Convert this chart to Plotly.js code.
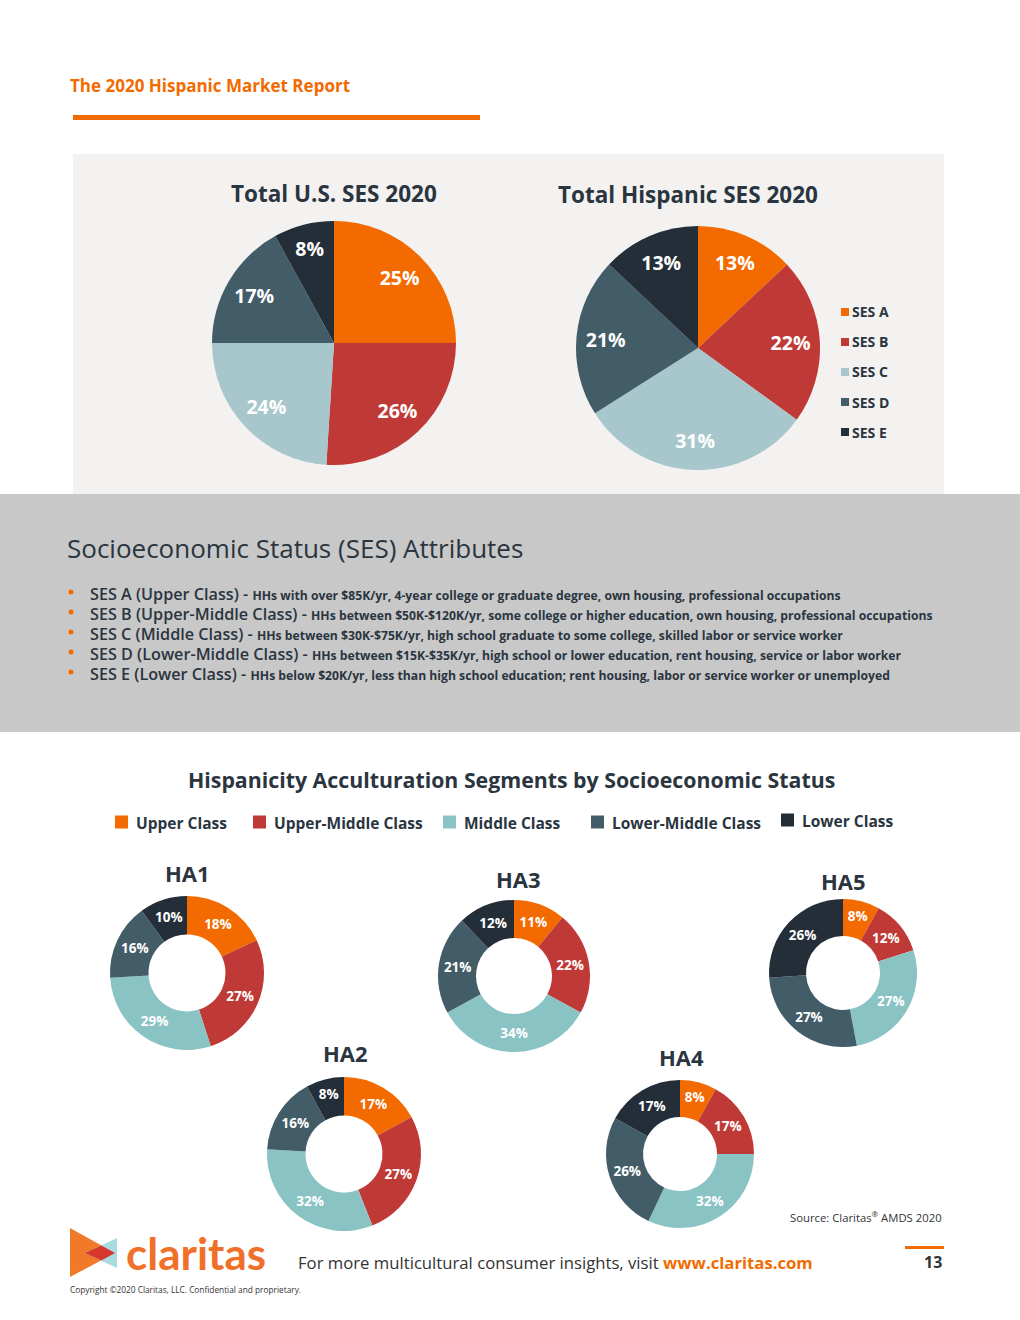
<!DOCTYPE html>
<html><head><meta charset="utf-8">
<script src="https://cdn.plot.ly/plotly-3.0.1.min.js"></script>
<style>html,body{margin:0;padding:0;background:#fff}#chart{width:1020px;height:1320px}</style>
</head><body><div id="chart"></div>
<script>
// ---- data ----
const sesLabels = ['SES A', 'SES B', 'SES C', 'SES D', 'SES E'];
const usValues = [25, 26, 24, 17, 8];
const hispanicValues = [13, 22, 31, 21, 13];
const classLabels = ['Upper Class', 'Upper-Middle Class', 'Middle Class', 'Lower-Middle Class', 'Lower Class'];
const segmentNames = ['HA1', 'HA2', 'HA3', 'HA4', 'HA5'];
const ha1Values = [18, 27, 29, 16, 10];
const ha2Values = [17, 27, 32, 16, 8];
const ha3Values = [11, 22, 34, 21, 12];
const ha4Values = [8, 17, 32, 26, 17];
const ha5Values = [8, 12, 27, 27, 26];
const sesHeads = ['SES A (Upper Class)', 'SES B (Upper-Middle Class)', 'SES C (Middle Class)', 'SES D (Lower-Middle Class)', 'SES E (Lower Class)'];
const sesDescriptions = [
  'HHs with over $85K/yr, 4-year college or graduate degree, own housing, professional occupations',
  'HHs between $50K-$120K/yr, some college or higher education, own housing, professional occupations',
  'HHs between $30K-$75K/yr, high school graduate to some college, skilled labor or service worker',
  'HHs between $15K-$35K/yr, high school or lower education, rent housing, service or labor worker',
  'HHs below $20K/yr, less than high school education; rent housing, labor or service worker or unemployed'
];

// ---- styling ----
const W = 1020, H = 1320;
const FONT = '"Open Sans", Lato, sans-serif';
const LOGO_FONT = 'Lato, sans-serif';
const ORANGE = '#F26B00', DARK = '#2A3540';
const topColors = ['#F36A00', '#BF3A36', '#A7C7CC', '#425C68', '#232E38'];
const donutColors = ['#F36A00', '#BF3A36', '#8AC3C3', '#425C68', '#232E38'];
const px = x => x / W, py = y => 1 - y / H;

function domain(cx, cy, r) {
  return { x: [px(cx - r), px(cx + r)], y: [py(cy + r), py(cy - r)] };
}

const traces = [];
function pieTrace(labels, values, colors, geo, hole, fontSize, showText) {
  return {
    type: 'pie', labels: labels, values: values, sort: false, direction: 'clockwise', rotation: 0,
    hole: hole, domain: domain(geo[0], geo[1], geo[2]),
    marker: { colors: colors, line: { width: 0 } },
    texttemplate: showText ? '%{value}%' : '', textposition: showText ? 'inside' : 'none', insidetextorientation: 'horizontal',
    textfont: { family: FONT, size: fontSize, color: '#ffffff', weight: 'bold' },
    showlegend: false, hoverinfo: 'label+value'
  };
}
const clear = sesLabels.map(() => 'rgba(0,0,0,0)');
const topGeo = [[334, 343, 122], [698, 348, 122]];
[usValues, hispanicValues].forEach((v, i) => {
  traces.push(pieTrace(sesLabels, v, topColors, topGeo[i], 0, 19, false));
  // transparent ring that only carries the percentage labels further out
  traces.push(pieTrace(sesLabels, v, clear, topGeo[i], 0.52, 19.5, true));
});

const donutGeo = [[187, 973, 77], [344, 1154, 77], [514, 976, 76], [680, 1154, 74], [843, 973, 74]];
const donutValues = [ha1Values, ha2Values, ha3Values, ha4Values, ha5Values];
const donutTitlePos = [[187, 873], [345, 1053], [518, 879], [681, 1057], [843, 881]];
donutValues.forEach((v, i) => traces.push(pieTrace(classLabels, v, donutColors, donutGeo[i], 0.5, 13.5, true)));

const shapes = [], annotations = [];
function rect(x0, y0, x1, y1, color) {
  shapes.push({ type: 'rect', xref: 'paper', yref: 'paper', x0: px(x0), x1: px(x1), y0: py(y1), y1: py(y0), fillcolor: color, line: { width: 0 }, layer: 'below' });
}
function poly(points, color) {
  const path = points.map((p, k) => (k ? 'L ' : 'M ') + px(p[0]) + ' ' + py(p[1])).join(' ') + ' Z';
  shapes.push({ type: 'path', xref: 'paper', yref: 'paper', path: path, fillcolor: color, line: { width: 0 } });
}
function text(t, x, y, size, color, anchor, weight, family) {
  annotations.push({ text: t, x: px(x), y: py(y), xref: 'paper', yref: 'paper', showarrow: false, xanchor: anchor || 'left', yanchor: 'middle', font: { family: family || FONT, size: size, color: color, weight: weight || 'normal' } });
}

// header
text('The 2020 Hispanic Market Report', 68, 85, 17, ORANGE, 'left', 'bold');
rect(73, 115, 480, 120, ORANGE);

// top panel
rect(73, 154, 944, 494, '#F3F2F1');
text('Total U.S. SES 2020', 334, 193, 22.5, DARK, 'center', 'bold');
text('Total Hispanic SES 2020', 688, 194, 22.5, DARK, 'center', 'bold');
sesLabels.forEach((l, i) => {
  const y = 312 + i * 30;
  rect(841, y - 4, 849, y + 4, topColors[i]);
  text(l, 850, y, 14, DARK, 'left', 'bold');
});

// attributes band
rect(0, 494, 1020, 732, '#C8C8C8');
text('Socioeconomic Status (SES) Attributes', 65, 548, 26, DARK);
sesHeads.forEach((h, i) => {
  const y = 594 + i * 20;
  shapes.push({ type: 'circle', xref: 'paper', yref: 'paper', x0: px(68.5), x1: px(73.5), y0: py(595), y1: py(590), fillcolor: ORANGE, line: { width: 0 }, y0shift: 0 });
  shapes[shapes.length - 1].y0 = py(y + 0.5); shapes[shapes.length - 1].y1 = py(y - 4.5);
  text(h + ' - <span style="font-size:12.2px"><b>' + sesDescriptions[i] + '</b></span>', 88, y, 16.2, DARK, 'left', 600);
});

// donut section
text('Hispanicity Acculturation Segments by Socioeconomic Status', 511, 779, 21.3, DARK, 'center', 'bold');
const legendX = [115, 253, 443, 591, 781];
const legendY = [822, 822, 822, 822, 820];
classLabels.forEach((l, i) => {
  rect(legendX[i], legendY[i] - 6.5, legendX[i] + 13, legendY[i] + 6.5, donutColors[i]);
  text(l, legendX[i] + 19, legendY[i] + 1, 15.5, DARK, 'left', 'bold');
});
segmentNames.forEach((n, i) => text(n, donutTitlePos[i][0], donutTitlePos[i][1], 22, DARK, 'center', 'bold'));

// footer
text('Source: Claritas<sup>®</sup> AMDS 2020', 944, 1217, 11.3, '#333333', 'right');
poly([[70, 1228], [115, 1253], [70, 1277]], '#F07A2A');
poly([[117, 1238], [117, 1268], [85, 1253]], '#A8DCE0');
poly([[85, 1253], [101.3, 1245.4], [115, 1253], [101.3, 1260.6]], '#D8372E');
text('claritas', 124, 1253, 44, '#F0702A', 'left', 'bold', LOGO_FONT);
text('For more multicultural consumer insights, visit <b><span style="color:#F26B00">www.claritas.com</span></b>', 296, 1262, 16.7, '#333333');
rect(905, 1246, 944, 1249, ORANGE);
text('13', 944, 1262, 16, '#333333', 'right', 'bold');
text('Copyright ©2020 Claritas, LLC. Confidential and proprietary.', 68, 1289, 8.3, '#333333');

const layout = {
  width: W, height: H, margin: { l: 0, r: 0, t: 0, b: 0 },
  paper_bgcolor: '#ffffff', plot_bgcolor: '#ffffff',
  showlegend: false, shapes: shapes, annotations: annotations,
  font: { family: FONT }
};
Plotly.newPlot('chart', traces, layout, { displayModeBar: false, staticPlot: true });
</script>
</body></html>
